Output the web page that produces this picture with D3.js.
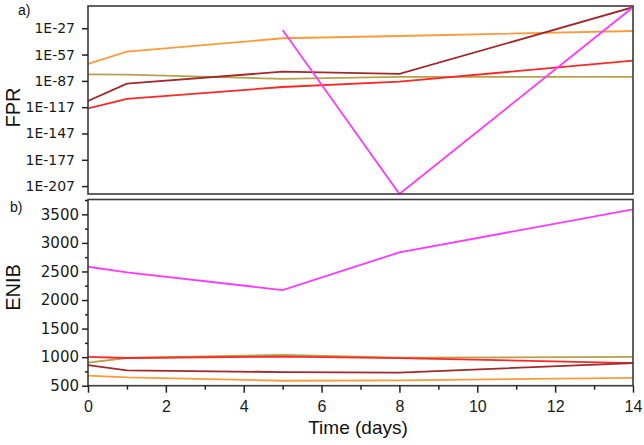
<!DOCTYPE html>
<html><head><meta charset="utf-8">
<script src="https://cdn.jsdelivr.net/npm/d3@7"></script>
<style>body{margin:0;background:#fff}svg{display:block}</style>
</head><body>
<svg id="c" width="644" height="445"></svg>
<script>
// ---- data ----
const days = [0, 1, 5, 8, 14];
const seriesNames = ["olive", "orange", "red", "darkred", "magenta"];
// log10(FPR) read from panel a)
const fprOlive   = [-79.5, -79.9, -84.8, -82.5, -82.5];
const fprOrange  = [-67.7, -53.7, -38.4, -35.8, -30.1];
const fprRed     = [-118.3, -107.6, -94.0, -87.9, -64.0];
const fprDarkRed = [-109.9, -90.2, -76.5, -79.1, -3.0];
const fprMagenta = [null, null, -28.9, -216.0, -3.0];
// ENIB read from panel b)
const enibOlive   = [905, 985, 1040, 990, 1003];
const enibOrange  = [676, 645, 587, 593, 637];
const enibRed     = [1005, 985, 1010, 983, 896];
const enibDarkRed = [860, 767, 739, 730, 896];
const enibMagenta = [2583, 2483, 2175, 2835, 3587];
const fprTickValues = [1e-207, 1e-177, 1e-147, 1e-117, 1e-87, 1e-57, 1e-27];
const fprTickLabels = ["1E-207", "1E-177", "1E-147", "1E-117", "1E-87", "1E-57", "1E-27"];
const enibTicks = [500, 1000, 1500, 2000, 2500, 3000, 3500];
const dayTicks = [0, 2, 4, 6, 8, 10, 12, 14];

// ---- styles ----
const colors = {olive: "#b9a048", orange: "#ff9a3a", red: "#ff2626", darkred: "#a3282c", magenta: "#ff38ff"};
const fprSeries = {olive: fprOlive, orange: fprOrange, red: fprRed, darkred: fprDarkRed, magenta: fprMagenta};
const enibSeries = {olive: enibOlive, orange: enibOrange, red: enibRed, darkred: enibDarkRed, magenta: enibMagenta};

const svg = d3.select("#c");
const L = 88, R = 633;
const topT = 6, topB = 194, botT = 199.5, botB = 385.7;

const x = d3.scaleLinear().domain([0, 14]).range([L, R]);
const yTop = d3.scaleLog().domain([1e-216, Math.pow(10, -1.6)]).range([topB, topT]);
const yBot = d3.scaleLinear().domain([500, 3760]).range([botB, botT]);

const defs = svg.append("defs");
defs.append("clipPath").attr("id", "clipTop").append("rect")
  .attr("x", L).attr("y", topT).attr("width", R - L).attr("height", topB - topT);
defs.append("clipPath").attr("id", "clipBot").append("rect")
  .attr("x", L).attr("y", botT).attr("width", R - L).attr("height", botB - botT);

// lines
const gTop = svg.append("g").attr("clip-path", "url(#clipTop)");
const gBot = svg.append("g").attr("clip-path", "url(#clipBot)");
const lineTop = d3.line().defined(d => d.v != null).x(d => x(d.t)).y(d => yTop(Math.pow(10, d.v)));
const lineBot = d3.line().x(d => x(d.t)).y(d => yBot(d.v));
seriesNames.forEach(n => {
  gTop.append("path").datum(days.map((t, i) => ({t, v: fprSeries[n][i]})))
    .attr("d", lineTop).attr("fill", "none").attr("stroke", colors[n]).attr("stroke-width", 1.8);
  gBot.append("path").datum(days.map((t, i) => ({t, v: enibSeries[n][i]})))
    .attr("d", lineBot).attr("fill", "none").attr("stroke", colors[n]).attr("stroke-width", 1.8);
});

// frames
[[topT, topB], [botT, botB]].forEach(([a, b]) => {
  svg.append("rect").attr("x", L).attr("y", a).attr("width", R - L).attr("height", b - a)
    .attr("fill", "none").attr("stroke", "#3a3a3a").attr("stroke-width", 1.6);
});

function styleAxis(g, font, size) {
  g.select(".domain").remove();
  g.selectAll("line").attr("stroke", "#222").attr("stroke-width", 1.5);
  g.selectAll("text").attr("fill", "#1a1a1a").style("font-family", font).style("font-size", size + "px");
}

// top y axis
const ay1 = svg.append("g").attr("transform", `translate(${L},0)`)
  .call(d3.axisLeft(yTop).tickValues(fprTickValues).tickFormat((d, i) => fprTickLabels[i]).tickSize(6).tickPadding(7));
styleAxis(ay1, "DejaVu Sans, sans-serif", 14);

// bottom y axis
const ay2 = svg.append("g").attr("transform", `translate(${L},0)`)
  .call(d3.axisLeft(yBot).tickValues(enibTicks).tickSize(6).tickPadding(3).tickFormat(d3.format("d")));
styleAxis(ay2, "DejaVu Sans, sans-serif", 15);
const ay2m = svg.append("g").attr("transform", `translate(${L},0)`)
  .call(d3.axisLeft(yBot).tickValues(d3.range(750, 3760, 500)).tickSize(3).tickFormat(""));
styleAxis(ay2m, "sans-serif", 10);

// x axis
const ax = svg.append("g").attr("transform", `translate(0,${botB})`)
  .call(d3.axisBottom(x).tickValues(dayTicks).tickSize(7).tickPadding(8).tickFormat(d3.format("d")));
styleAxis(ax, "Liberation Sans, Arial, sans-serif", 16);
const axm = svg.append("g").attr("transform", `translate(0,${botB})`)
  .call(d3.axisBottom(x).tickValues([1, 3, 5, 7, 9, 11, 13]).tickSize(4).tickFormat(""));
styleAxis(axm, "sans-serif", 10);

// titles
const tf = "Liberation Sans, Arial, sans-serif";
svg.append("text").attr("x", 18).attr("y", 15).text("a)")
  .style("font-family", tf).style("font-size", "14px").attr("fill", "#111");
svg.append("text").attr("x", 10).attr("y", 212).text("b)")
  .style("font-family", tf).style("font-size", "14px").attr("fill", "#111");
svg.append("text").attr("transform", "translate(20,107.5) rotate(-90)").attr("text-anchor", "middle")
  .text("FPR").style("font-family", tf).style("font-size", "20px").attr("fill", "#111");
svg.append("text").attr("transform", "translate(20,287.5) rotate(-90)").attr("text-anchor", "middle")
  .text("ENIB").style("font-family", tf).style("font-size", "20px").attr("fill", "#111");
svg.append("text").attr("x", 358).attr("y", 434).attr("text-anchor", "middle")
  .text("Time (days)").style("font-family", tf).style("font-size", "19px").attr("fill", "#111");
</script>
</body></html>
